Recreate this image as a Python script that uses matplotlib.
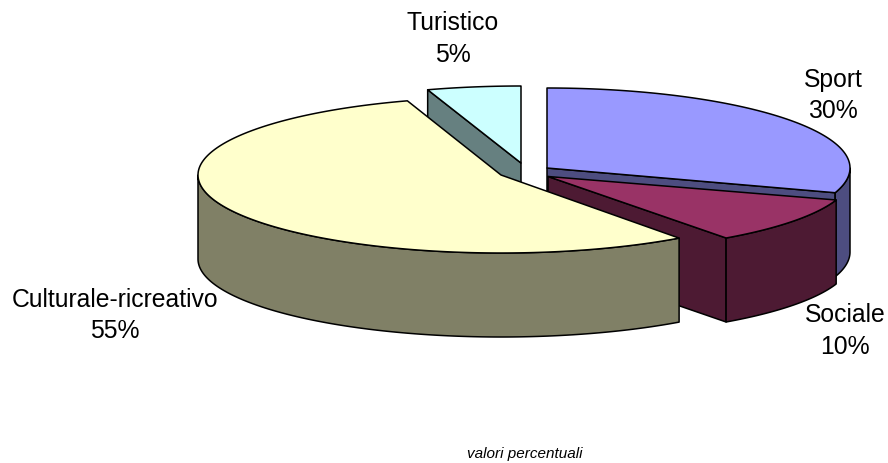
import numpy as np
import matplotlib
matplotlib.use("Agg")
from matplotlib import pyplot as plt

categories = ["Sport", "Sociale", "Culturale-ricreativo", "Turistico"]
values = [30, 10, 55, 5]

top_colors = ["#9999FF", "#993366", "#FFFFCC", "#CCFFFF"]
side_colors = ["#4D4D80", "#4D1A33", "#808066", "#668080"]

# pie placement, in pixels (each slice is pulled out on its own)
centers = [(547, 168), (548, 176.5), (501, 175), (521, 163)]
radii_x = [303, 303, 303, 302]
radii_y = [80, 76, 78, 77]
depth = 84
label_pos = [(833, 95.5), (845, 331), (115, 315.5), (452.5, 39)]
draw_order = [3, 0, 1, 2]

plt.rcParams["font.family"] = ["Liberation Sans", "DejaVu Sans"]
fig = plt.figure(figsize=(8.88, 4.63), dpi=100)
ax = fig.add_axes([0, 0, 1, 1])
ax.set_xlim(0, 888)
ax.set_ylim(463, 0)
ax.axis("off")


def rim(i, start, stop):
    # angles clockwise from 12 o'clock
    t = np.radians(np.linspace(start, stop, 200))
    x = centers[i][0] + radii_x[i] * np.sin(t)
    y = centers[i][1] - radii_y[i] * np.cos(t)
    return x, y


def poly(xs, ys, color):
    ax.fill(xs, ys, facecolor=color, edgecolor="black", linewidth=1.1, joinstyle="round")


def cut_face(i, ang):
    cx, cy = centers[i]
    x, y = rim(i, ang, ang)
    poly([cx, x[0], x[0], cx], [cy, y[0], y[0] + depth, cy + depth], side_colors[i])


edges = np.concatenate([[0], np.cumsum(values)]) * 3.6

for i in draw_order:
    start, stop = edges[i], edges[i + 1]
    cx, cy = centers[i]

    # flat cut faces, only those turned towards the viewer
    if 180 < start < 360:
        cut_face(i, start)
    if 0 < stop < 180:
        cut_face(i, stop)

    # outer wall, only the front half of the rim
    lo, hi = max(start, 90), min(stop, 270)
    if lo < hi:
        x, y = rim(i, lo, hi)
        poly(np.r_[x, x[::-1]], np.r_[y, y[::-1] + depth], side_colors[i])

    # top
    x, y = rim(i, start, stop)
    poly(np.r_[cx, x], np.r_[cy, y], top_colors[i])

for i, name in enumerate(categories):
    ax.text(label_pos[i][0], label_pos[i][1], f"{name}\n{values[i]}%", ha="center", va="center",
            fontsize=17.8, linespacing=1.4, color="black")

ax.text(525, 454, "valori percentuali", ha="center", va="center", fontsize=11, style="italic", color="black")

fig.savefig("out.png", dpi=100)
